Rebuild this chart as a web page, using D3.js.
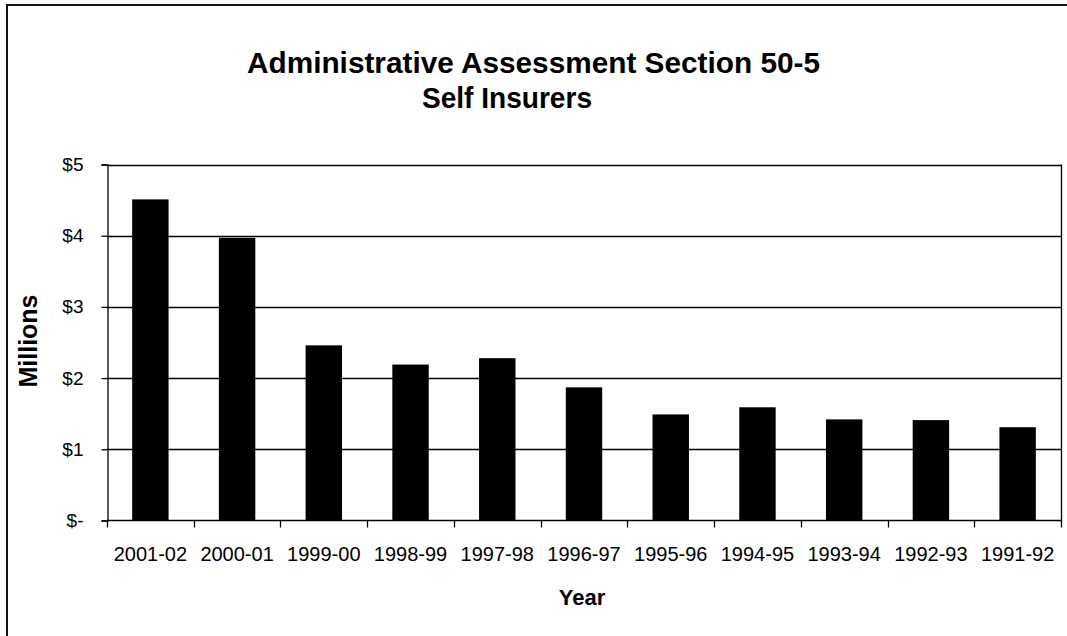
<!DOCTYPE html>
<html>
<head>
<meta charset="utf-8">
<script src="https://cdn.jsdelivr.net/npm/d3@7"></script>
<style>
  html, body { margin: 0; padding: 0; background: #fff; }
  svg { display: block; font-family: "Liberation Sans", Arial, sans-serif; }
</style>
</head>
<body>
<svg id="chart" width="1067" height="636"></svg>
<script>
const categories = ["2001-02","2000-01","1999-00","1998-99","1997-98","1996-97","1995-96","1994-95","1993-94","1992-93","1991-92"];
const values = [4.51, 3.97, 2.46, 2.19, 2.28, 1.87, 1.49, 1.59, 1.42, 1.41, 1.31];
const yTicks = [0, 1, 2, 3, 4, 5];
const titleLines = ["Administrative Assessment Section 50-5", "Self Insurers"];
const xTitle = "Year";
const yTitle = "Millions";

const svg = d3.select("#chart");
const m = { left: 107, right: 1061, top: 164.5, bottom: 520.5 };

// outer frame (only top and left visible)
svg.append("rect").attr("x", 7).attr("y", 5).attr("width", 1100).attr("height", 700)
  .attr("fill", "none").attr("stroke", "#111").attr("stroke-width", 2);

const x = d3.scaleBand().domain(categories).range([m.left, m.right]).paddingInner(0.58).paddingOuter(0.29);
const xTickScale = d3.scaleBand().domain(categories).range([m.left, m.right]);
const y = d3.scaleLinear().domain([0, 5]).range([m.bottom, m.top]);

// gridlines
svg.append("g").selectAll("line").data(yTicks.filter(d => d > 0)).join("line")
  .attr("x1", m.left).attr("x2", m.right)
  .attr("y1", d => Math.round(y(d)) + 0.5).attr("y2", d => Math.round(y(d)) + 0.5)
  .attr("stroke", "#000").attr("stroke-width", 1.3);

// bars
svg.append("g").selectAll("rect").data(values).join("rect")
  .attr("x", (d, i) => x(categories[i]))
  .attr("width", x.bandwidth())
  .attr("y", d => y(d))
  .attr("height", d => y(0) - y(d))
  .attr("fill", "#000");

// right border of plot area
svg.append("line").attr("x1", m.right + 0.5).attr("x2", m.right + 0.5)
  .attr("y1", m.top).attr("y2", m.bottom).attr("stroke", "#000").attr("stroke-width", 1.3);

// y axis
const yAxis = d3.axisLeft(y).tickValues(yTicks).tickSize(6).tickPadding(18)
  .tickFormat(d => d === 0 ? "$-" : "$" + d);
const gy = svg.append("g").attr("transform", `translate(${m.left + 0.5},0)`).call(yAxis);
gy.select(".domain").attr("stroke", "#000").attr("stroke-width", 1.3);
gy.selectAll(".tick line").attr("stroke", "#000").attr("stroke-width", 1.3);
gy.selectAll(".tick text").attr("font-size", 19).attr("fill", "#000")
  .attr("font-family", "'Liberation Sans', Arial, sans-serif");

// x axis with ticks at category boundaries
svg.append("line").attr("x1", m.left).attr("x2", m.right + 1)
  .attr("y1", m.bottom).attr("y2", m.bottom).attr("stroke", "#000").attr("stroke-width", 1.5);
const boundaries = categories.map(c => xTickScale(c)).concat([m.right]);
svg.append("g").selectAll("line").data(boundaries).join("line")
  .attr("x1", d => Math.round(d) + 0.5).attr("x2", d => Math.round(d) + 0.5)
  .attr("y1", m.bottom).attr("y2", m.bottom + 7)
  .attr("stroke", "#000").attr("stroke-width", 1.3);
svg.append("g").selectAll("text").data(categories).join("text")
  .attr("x", d => xTickScale(d) + xTickScale.bandwidth() / 2)
  .attr("y", 560.5)
  .attr("text-anchor", "middle")
  .attr("font-size", 20)
  .attr("fill", "#000")
  .text(d => d);

// titles (text is horizontally condensed in the reference)
const titleLayout = [
  { cx: 533.5, y: 73, len: 573 },
  { cx: 507, y: 108, len: 170 }
];
svg.append("g").selectAll("text").data(titleLines).join("text")
  .attr("x", (d, i) => titleLayout[i].cx - titleLayout[i].len / 2)
  .attr("y", (d, i) => titleLayout[i].y)
  .attr("textLength", (d, i) => titleLayout[i].len)
  .attr("lengthAdjust", "spacingAndGlyphs")
  .attr("font-weight", "bold")
  .attr("font-size", 30)
  .attr("fill", "#000")
  .text(d => d);

svg.append("text").attr("x", 582).attr("y", 605)
  .attr("text-anchor", "middle").attr("font-weight", "bold").attr("font-size", 22)
  .attr("fill", "#000").text(xTitle);

svg.append("text").attr("transform", "translate(37,341) rotate(-90)")
  .attr("text-anchor", "middle").attr("font-weight", "bold").attr("font-size", 25)
  .attr("fill", "#000").text(yTitle);
</script>
</body>
</html>
